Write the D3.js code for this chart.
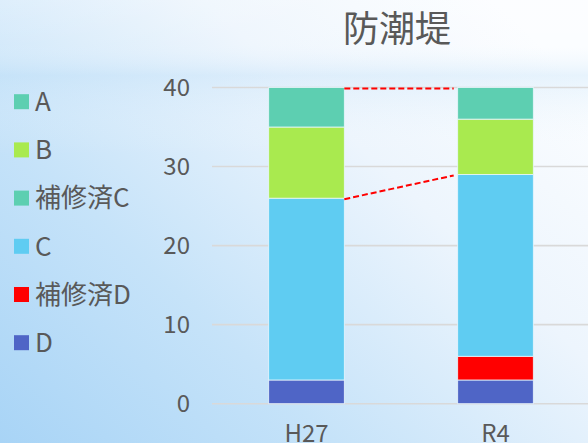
<!DOCTYPE html>
<html><head><meta charset="utf-8">
<script src="https://cdn.jsdelivr.net/npm/d3@7"></script>
<style>html,body{margin:0;padding:0;overflow:hidden;}svg{display:block;}</style>
</head><body>
<svg id="chart" width="588" height="443"></svg>
<script>
const title = "防潮堤";
const categories = ["H27", "R4"];
const seriesNames = ["D", "補修済D", "C", "補修済C", "B", "A"]; // bottom to top
const valuesD = [3, 3];
const valuesRepairedD = [0, 3];
const valuesC = [23, 23];
const valuesRepairedC = [0, 0];
const valuesB = [9, 7];
const valuesA = [5, 4];
const legendOrder = ["A", "B", "補修済C", "C", "補修済D", "D"];
const yTicks = [0, 10, 20, 30, 40];
const linkedSeries = ["A", "C"]; // dashed connector lines at the top of these series
const colors = {"A": "#5dcfb1", "B": "#a9ea4f", "補修済C": "#5dcfb1", "C": "#5fccf2", "補修済D": "#ff0000", "D": "#4f65c6"};

const seriesValues = {"D": valuesD, "補修済D": valuesRepairedD, "C": valuesC, "補修済C": valuesRepairedC, "B": valuesB, "A": valuesA};
const table = categories.map((c, i) => {
  const row = {cat: c};
  seriesNames.forEach(s => row[s] = seriesValues[s][i]);
  return row;
});

const W = 588, H = 443;
const svg = d3.select("#chart");
const defs = svg.append("defs");
const g1 = defs.append("linearGradient").attr("id", "bg1").attr("x1", "0").attr("y1", "1").attr("x2", "1").attr("y2", "0.2");
g1.append("stop").attr("offset", "0").attr("stop-color", "#a8d4f6");
g1.append("stop").attr("offset", "0.35").attr("stop-color", "#c6e3f9");
g1.append("stop").attr("offset", "0.7").attr("stop-color", "#edf5fd");
g1.append("stop").attr("offset", "1").attr("stop-color", "#fbfdff");
const g2 = defs.append("linearGradient").attr("id", "bg2").attr("x1", "0").attr("y1", "0").attr("x2", "0").attr("y2", "1");
g2.append("stop").attr("offset", "0").attr("stop-color", "#ffffff").attr("stop-opacity", 0.2);
g2.append("stop").attr("offset", "0.1").attr("stop-color", "#ffffff").attr("stop-opacity", 0.1);
g2.append("stop").attr("offset", "0.17").attr("stop-color", "#b8dcf7").attr("stop-opacity", 0.3);
g2.append("stop").attr("offset", "0.35").attr("stop-color", "#ffffff").attr("stop-opacity", 0.0);
g2.append("stop").attr("offset", "1").attr("stop-color", "#ffffff").attr("stop-opacity", 0.0);
svg.append("rect").attr("width", W).attr("height", H).attr("fill", "url(#bg1)");
svg.append("rect").attr("width", W).attr("height", H).attr("fill", "url(#bg2)");

const fontFam = "'Noto Sans CJK JP', 'Noto Sans', sans-serif";
const textColor = "#595959";

const x = d3.scaleBand().domain(categories).range([212, 590]).paddingInner(0.6).paddingOuter(0.3);
const y = d3.scaleLinear().domain([0, 40]).range([403.7, 87.5]);

// gridlines
svg.append("g").selectAll("line").data(yTicks).join("line")
  .attr("x1", 212).attr("x2", W)
  .attr("y1", d => y(d)).attr("y2", d => y(d))
  .attr("stroke", "#d9d9d9").attr("stroke-width", 1.6);

// y axis labels
const yAxis = d3.axisLeft(y).tickValues(yTicks).tickSize(0).tickPadding(0);
const ya = svg.append("g").attr("transform", "translate(190,0)").call(yAxis);
ya.select(".domain").remove();
ya.selectAll("text").attr("font-family", fontFam).attr("font-size", 24).attr("fill", textColor).attr("dy", "0.34em");

// x axis labels
const xAxis = d3.axisBottom(x).tickSize(0).tickPadding(0);
const xa = svg.append("g").attr("transform", "translate(0,443)").call(xAxis);
xa.select(".domain").remove();
xa.selectAll("text").attr("font-family", fontFam).attr("font-size", 24).attr("fill", textColor).attr("dy", "-0.04em");

// stacked bars
const stack = d3.stack().keys(seriesNames);
const stacked = stack(table);
svg.append("g").selectAll("g").data(stacked).join("g")
  .attr("fill", d => colors[d.key])
  .selectAll("rect").data(d => d.filter(p => p[1] - p[0] > 0)).join("rect")
  .attr("x", d => x(d.data.cat))
  .attr("width", x.bandwidth())
  .attr("y", d => y(d[1]))
  .attr("height", d => y(d[0]) - y(d[1]))
  .attr("stroke", "#e8f6fc").attr("stroke-width", 0.8);

// dashed connector lines
const layerByKey = {};
stacked.forEach(l => layerByKey[l.key] = l);
svg.append("g").selectAll("line").data(linkedSeries).join("line")
  .attr("x1", x(categories[0]) + x.bandwidth())
  .attr("x2", x(categories[1]) - 4)
  .attr("y1", k => y(layerByKey[k][0][1]) + 1)
  .attr("y2", k => y(layerByKey[k][1][1]) + 1)
  .attr("stroke", "#ff0000").attr("stroke-width", 2).attr("stroke-dasharray", "6,3");

// title
svg.append("text").attr("x", 397).attr("y", 42).attr("text-anchor", "middle")
  .attr("font-family", fontFam).attr("font-size", 36).attr("fill", textColor).text(title);

// legend
const leg = svg.append("g");
const items = leg.selectAll("g").data(legendOrder).join("g")
  .attr("transform", (d, i) => `translate(14,${101.7 + i * 48.2})`);
items.append("rect").attr("x", 0).attr("y", -7.5).attr("width", 15).attr("height", 15).attr("fill", d => colors[d]);
items.append("text").attr("x", 21).attr("y", 0).attr("dy", "0.36em")
  .attr("font-family", fontFam).attr("font-size", 26).attr("fill", textColor).text(d => d);
</script>
</body></html>
